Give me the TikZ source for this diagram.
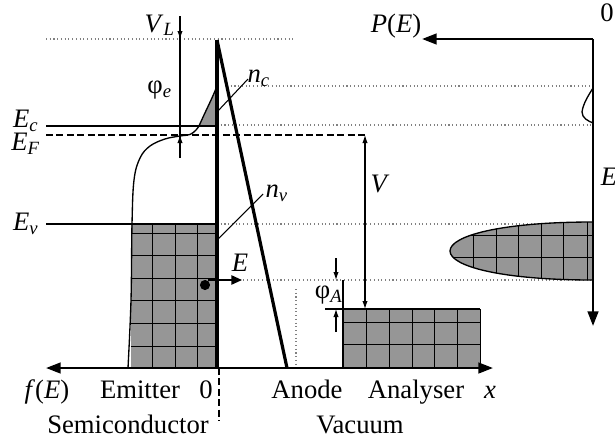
\documentclass[tikz,border=0pt]{standalone}
\usepackage{amsmath}
\usepackage{fontspec}
\setmainfont{Liberation Serif}
\usepackage{tikz}
\usetikzlibrary{arrows.meta,positioning}
\definecolor{statefill}{RGB}{150,150,150}
\newcommand{\bsym}[2]{\textit{#1}\textsubscript{\textit{#2}}}

\tikzset{
  guide/.style={gray,densely dotted,line width=0.4pt},
  level/.style={line width=0.5pt},
  fermi/.style={line width=0.5pt,dash pattern=on 2.6pt off 1.3pt},
  barrier/.style={line width=1.2pt},
  mainaxis/.style={line width=0.9pt},
  states/.style={fill=statefill},
  gridline/.style={line width=0.35pt},
  smalltip/.style={-{Latex[length=3pt,width=2pt]},line width=0.4pt},
  lbl/.style={inner sep=0pt,anchor=base}
}

\begin{document}
\begin{tikzpicture}[x=0.375pt,y=-0.375pt]
  \useasboundingbox (0,0) rectangle (615,439);
  % dotted guides
  \draw[guide] (46,39) -- (295,39);
  \draw[guide] (227,86) -- (593,86);
  \draw[guide] (217,125) -- (593,125);
  \draw[guide] (217,224) -- (593,224);
  \draw[guide] (217,280) -- (593,280);
  \draw[guide] (296,289) -- (296,366);
  % occupied states, emitter
  \fill[states] (131,224) rectangle (217,368);
  \foreach \x in {152.5,175,197} \draw[gridline] (\x,224) -- (\x,368);
  \foreach \y in {233,255.5,278,300.5,323,346} \draw[gridline] (131,\y) -- (217,\y);
  \fill[states] (199,126) .. controls (206,110) and (212,99) .. (217,86) -- (217,126) -- cycle;
  % occupied states, analyser
  \fill[states] (343,309) rectangle (480,368);
  \foreach \x in {366,389,412,434.5,457.5,480} \draw[gridline] (\x,309) -- (\x,368);
  \foreach \y in {322.5,344.5} \draw[gridline] (343,\y) -- (480,\y);
  % distribution P(E)
  \fill[states] (593,222) .. controls (500,222) and (450,236) .. (450,251)
    .. controls (450,266) and (500,280) .. (593,280) -- cycle;
  \begin{scope}
    \clip (593,222) .. controls (500,222) and (450,236) .. (450,251)
      .. controls (450,266) and (500,280) .. (593,280) -- cycle;
    \foreach \x in {473,496,518.5,541,563.5,587} \draw[gridline] (\x,220) -- (\x,282);
    \foreach \y in {235,257.5} \draw[gridline] (440,\y) -- (593,\y);
  \end{scope}
  \draw[level] (593,222) .. controls (500,222) and (450,236) .. (450,251)
    .. controls (450,266) and (500,280) .. (593,280);
  \draw[level] (593,88) .. controls (588,96) and (583,104) .. (582,112)
    .. controls (582,118) and (588,121) .. (593,123);
  % band levels
  \draw[level] (46,126) -- (217,126);
  \draw[fermi] (46,135) -- (367,135);
  \draw[level] (46,224) -- (217,224);
  \draw[level] plot[smooth,tension=0.6] coordinates {(128,368) (131,300) (132,224) (134,180)
    (140,158) (150,146) (165,139) (180,136) (190,134.5) (196,130) (199,126)};
  \draw[level] (199,126) .. controls (206,110) and (212,99) .. (217,86);
  % barrier
  \draw[barrier] (217,368) -- (217,40);
  \draw[barrier] (217,40) -- (287,368);
  % energies
  \draw[line width=0.4pt] (180,16) -- (180,158);
  \draw[smalltip] (180,16) -- (180,39);
  \draw[smalltip] (180,158) -- (180,135);
  \draw[{Latex[length=3pt,width=2pt]}-{Latex[length=3pt,width=2pt]},line width=0.4pt] (365,135) -- (365,309);
  \draw[level] (325,309) -- (480,309);
  \draw[level] (343,280) -- (343,368);
  \draw[smalltip] (336,258) -- (336,280);
  \draw[smalltip] (336,332) -- (336,309);
  % electron
  \fill (205,285) circle (1.9pt);
  \draw[-{Triangle[length=4pt,width=3.5pt]},line width=0.6pt] (208,280) -- (242,280);
  % axes
  \draw[mainaxis,{Triangle[length=5.5pt,width=4pt]}-{Triangle[length=5.5pt,width=4pt]}] (46,368) -- (493,368);
  \draw[mainaxis,-{Triangle[length=5.5pt,width=4pt]}] (593,39) -- (593,326);
  \draw[mainaxis,-{Triangle[length=5.5pt,width=4pt]}] (593,39) -- (422,39);
  \draw[fermi] (219,368) -- (219,421);
  % labels
  \node[lbl] (VL) at (160,32) {\bsym{V}{L}};
  \node[lbl] (phie) at (160,93) {φ\textsubscript{\textit{e}}};
  \node[lbl] (Ec) at (26,127) {\bsym{E}{c}};
  \node[lbl] (EF) at (26,150) {\bsym{E}{F}};
  \node[lbl] (Ev) at (26,230) {\bsym{E}{v}};
  \node[lbl] (nc) at (259,82) {\bsym{n}{c}};
  \node[lbl] (nv) at (277,197) {\bsym{n}{v}};
  \node[lbl] (Elab) at (240,271) {\textit{E}};
  \node[lbl] (phiA) at (329,298) {φ\textsubscript{\textit{A}}};
  \node[lbl] (Vlab) at (380,192) {\textit{V}};
  \node[lbl] (PE) at (396,32) {\textit{P}(\textit{E})};
  \node[lbl] (zeroP) at (607,22) {0};
  \node[lbl] (Eaxis) at (609,185) {\textit{E}};
  \coordinate (ncfoot) at (217,112);
  \coordinate (nvfoot) at (217,240);
  \draw[line width=0.4pt] (ncfoot) -- (248,79);
  \draw[line width=0.4pt] (nvfoot) -- (263,194);
  \node[lbl] (fE) at (47,398) {\textit{f}(\textit{E})};
  \node[lbl] (emitter) at (140,398) {Emitter};
  \node[lbl] (zero) at (206,398) {0};
  \node[lbl] (anode) at (307,398) {Anode};
  \node[lbl] (analyser) at (416,398) {Analyser};
  \node[lbl] (xlab) at (490,398) {\textit{x}};
  \node[lbl] (semi) at (128,433) {Semiconductor};
  \node[lbl] (vacuum) at (360,433) {Vacuum};
\end{tikzpicture}
\end{document}
